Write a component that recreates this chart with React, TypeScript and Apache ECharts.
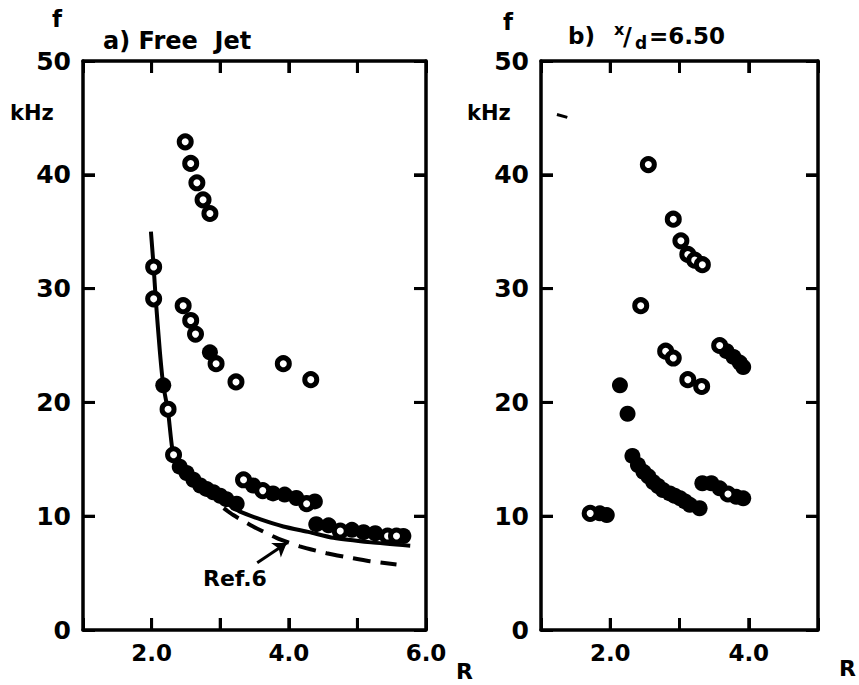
import React, { useEffect, useRef } from 'react';
import * as echarts from 'echarts';

// Panel a) Free Jet
const freeJetOpen: number[][] = [
  [2.49, 42.9], [2.57, 41.0], [2.66, 39.3], [2.75, 37.8], [2.85, 36.6],
  [2.46, 28.5], [2.57, 27.2], [2.64, 26.0], [2.94, 23.4], [3.23, 21.8], [3.92, 23.4], [4.32, 22.0],
  [2.03, 31.9], [2.03, 29.1], [2.24, 19.4], [2.32, 15.4],
  [3.34, 13.2], [3.62, 12.25], [4.26, 11.1],
  [4.75, 8.7], [5.44, 8.26], [5.57, 8.26],
];
const freeJetFilled: number[][] = [
  [2.85, 24.4], [2.17, 21.5],
  [2.41, 14.35], [2.51, 13.8], [2.61, 13.2], [2.71, 12.7], [2.80, 12.4], [2.90, 12.1], [3.0, 11.8], [3.09, 11.5], [3.24, 11.1],
  [3.48, 12.7], [3.77, 12.0], [3.94, 11.9], [4.11, 11.6], [4.38, 11.3],
  [4.40, 9.3], [4.58, 9.2], [4.92, 8.8], [5.09, 8.6], [5.26, 8.5], [5.67, 8.26],
];
const freeJetCurve: number[][] = [
  [1.99, 35.0], [2.03, 31.9], [2.06, 29.1], [2.12, 24.5], [2.17, 21.5], [2.24, 19.2], [2.30, 16.0],
  [2.36, 14.9], [2.45, 14.0], [2.6, 13.1], [2.8, 12.2], [3.0, 11.5], [3.29, 10.4], [3.6, 9.7],
  [3.92, 9.1], [4.3, 8.6], [4.65, 8.1], [5.2, 7.7], [5.77, 7.4],
];
const ref6Curve: number[][] = [
  [3.05, 10.7], [3.19, 10.1], [3.48, 9.1], [3.82, 8.1], [4.16, 7.35], [4.55, 6.75], [4.94, 6.3], [5.18, 6.05], [5.57, 5.75],
];
const ref6Arrow: number[][] = [[3.54, 5.9], [3.97, 7.65]];

// Panel b) x/d = 6.50
const jet650Open: number[][] = [
  [2.55, 40.9], [2.91, 36.1], [3.02, 34.2], [3.12, 33.0], [3.22, 32.5], [3.33, 32.1],
  [2.44, 28.5], [2.80, 24.5], [2.91, 23.9], [3.12, 22.0], [3.32, 21.4], [3.58, 25.0],
  [1.71, 10.25], [3.70, 11.95],
];
const jet650Filled: number[][] = [
  [2.14, 21.5], [2.25, 19.0], [2.32, 15.3], [2.40, 14.5], [2.48, 13.9], [2.55, 13.5], [2.62, 13.0],
  [2.69, 12.65], [2.76, 12.3], [2.86, 12.0], [2.93, 11.8], [3.01, 11.57], [3.08, 11.3], [3.15, 11.0], [3.29, 10.7],
  [3.33, 12.9], [3.46, 12.9], [3.58, 12.45], [3.82, 11.7], [3.92, 11.57],
  [1.85, 10.25], [1.95, 10.1],
  [3.68, 24.5], [3.78, 24.0], [3.87, 23.5], [3.92, 23.1],
];
const jet650Dash: number[][] = [[1.23, 45.3], [1.38, 45.05]];

const xTickLabels = [2, 4, 6];
const yTicks = [10, 20, 30, 40];
const xTicksA = [2, 3, 4, 5];
const xTicksB = [2, 3, 4];

export default function App() {
  const ref = useRef<HTMLDivElement>(null);
  useEffect(() => {
    const chart = echarts.init(ref.current!, null, { renderer: 'svg' });
    const FONT = 'DejaVu Sans';
    const line = () => ({ show: true, onZero: false, lineStyle: { color: '#000', width: 3.5 } });
    const tick = () => ({ show: true, inside: true, length: 12, lineStyle: { color: '#000', width: 3 } });
    const mkX = (grid: number, max: number, pos: string, show: boolean) => ({
      type: 'value', gridIndex: grid, position: pos, min: 1, max, interval: 1,
      axisLine: line(), axisTick: tick(), splitLine: { show: false },
      axisLabel: {
        show, fontFamily: FONT, fontWeight: 'bold', fontSize: 23, color: '#000', margin: 11,
        formatter: (v: number) => (xTickLabels.includes(v) ? v.toFixed(1) : ''),
      },
    });
    const mkY = (grid: number, pos: string, show: boolean) => ({
      type: 'value', gridIndex: grid, position: pos, min: 0, max: 50, interval: 10,
      axisLine: line(), axisTick: tick(), splitLine: { show: false },
      axisLabel: { show, fontFamily: FONT, fontWeight: 'bold', fontSize: 25, color: '#000', margin: 12 },
    });
    const openStyle = { color: '#fff', borderColor: '#000', borderWidth: 5, opacity: 1 };
    const filledStyle = { color: '#000', opacity: 1 };
    const txt = (text: string, x: number, y: number, size: number, align = 'left') => ({
      type: 'text', x, y,
      style: { text, fontFamily: FONT, fontWeight: 'bold', fontSize: size, fill: '#000', align, verticalAlign: 'middle' },
    });
    // tick marks drawn inside the frame: kind 0 = f tick, kind 1 = R tick
    const tickRender = (params: any, api: any) => {
      const cs = params.coordSys;
      const kind = api.value(0);
      const v = api.value(1);
      const style = { stroke: '#000', lineWidth: 3 };
      const L = 12;
      if (kind === 0) {
        const y = api.coord([2, v])[1];
        return {
          type: 'group',
          children: [
            { type: 'line', shape: { x1: cs.x, y1: y, x2: cs.x + L, y2: y }, style },
            { type: 'line', shape: { x1: cs.x + cs.width, y1: y, x2: cs.x + cs.width - L, y2: y }, style },
          ],
        };
      }
      const x = api.coord([v, 10])[0];
      return {
        type: 'group',
        children: [
          { type: 'line', shape: { x1: x, y1: cs.y + cs.height, x2: x, y2: cs.y + cs.height - L }, style },
          { type: 'line', shape: { x1: x, y1: cs.y, x2: x, y2: cs.y + L }, style },
        ],
      };
    };
    const tickData = (xs: number[]) => [...yTicks.map((v) => [0, v]), ...xs.map((v) => [1, v])];
    chart.setOption({
      animation: false,
      backgroundColor: '#fff',
      grid: [
        { left: 83, top: 61, width: 343, height: 569 },
        { left: 541, top: 61, width: 277, height: 569 },
      ],
      xAxis: [mkX(0, 6, 'bottom', true), mkX(0, 6, 'top', false), mkX(1, 5, 'bottom', true), mkX(1, 5, 'top', false)],
      yAxis: [mkY(0, 'left', true), mkY(0, 'right', false), mkY(1, 'left', true), mkY(1, 'right', false)],
      series: [
        {
          type: 'custom', xAxisIndex: 0, yAxisIndex: 0, data: tickData(xTicksA), renderItem: tickRender,
          silent: true, z: 5,
        },
        {
          type: 'custom', xAxisIndex: 2, yAxisIndex: 2, data: tickData(xTicksB), renderItem: tickRender,
          silent: true, z: 5,
        },
        {
          type: 'line', xAxisIndex: 0, yAxisIndex: 0, data: freeJetCurve, showSymbol: false, smooth: 0.2,
          lineStyle: { color: '#000', width: 4 }, z: 2,
        },
        {
          type: 'line', xAxisIndex: 0, yAxisIndex: 0, data: ref6Curve, showSymbol: false, smooth: 0.2,
          lineStyle: { color: '#000', width: 4, type: [18, 10] }, z: 2,
          markLine: {
            silent: true, symbol: ['none', 'arrow'], symbolSize: 13,
            lineStyle: { color: '#000', width: 3, type: 'solid' }, label: { show: false },
            data: [[{ coord: ref6Arrow[0] }, { coord: ref6Arrow[1] }]],
          },
        },
        {
          type: 'scatter', xAxisIndex: 0, yAxisIndex: 0, data: freeJetFilled, symbol: 'circle', symbolSize: 16,
          itemStyle: filledStyle, z: 3,
        },
        {
          type: 'scatter', xAxisIndex: 0, yAxisIndex: 0, data: freeJetOpen, symbol: 'circle', symbolSize: 12,
          itemStyle: openStyle, z: 4,
        },
        {
          type: 'line', xAxisIndex: 2, yAxisIndex: 2, data: jet650Dash, showSymbol: false,
          lineStyle: { color: '#000', width: 3 },
        },
        {
          type: 'scatter', xAxisIndex: 2, yAxisIndex: 2, data: jet650Filled, symbol: 'circle', symbolSize: 16,
          itemStyle: filledStyle, z: 3,
        },
        {
          type: 'scatter', xAxisIndex: 2, yAxisIndex: 2, data: jet650Open, symbol: 'circle', symbolSize: 12,
          itemStyle: openStyle, z: 4,
        },
      ],
      graphic: [
        txt('f', 57, 19, 23, 'center'),
        txt('a) Free  Jet', 103, 41, 24),
        txt('kHz', 10, 113, 21),
        txt('R', 456, 671, 22),
        txt('Ref.6', 203, 578, 22),
        txt('f', 508, 22, 23, 'center'),
        txt('b)', 568, 36, 23),
        txt('x', 614, 29, 16),
        txt('/', 623, 37, 24),
        txt('d', 635, 43, 17),
        txt('=6.50', 649, 36, 23),
        txt('kHz', 467, 113, 21),
        txt('R', 839, 668, 22),
      ],
    });
    return () => chart.dispose();
  }, []);
  return (
    <div
      ref={ref}
      style={{ position: 'absolute', left: 0, top: 0, width: 859, height: 685, background: '#fff' }}
    />
  );
}
